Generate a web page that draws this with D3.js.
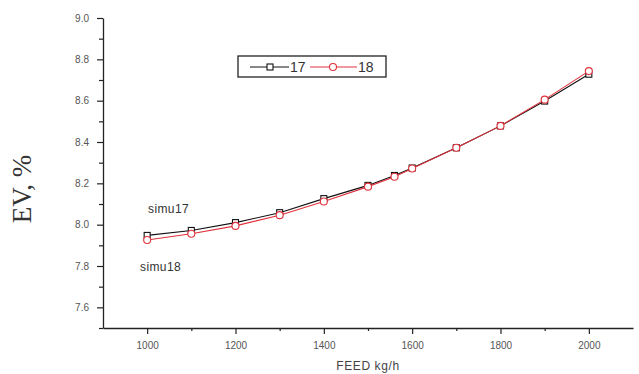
<!DOCTYPE html>
<html><head><meta charset="utf-8">
<script src="https://cdn.jsdelivr.net/npm/d3@7"></script>
<style>body{margin:0;background:#fff;} svg{display:block;}</style>
</head><body>
<script>
const feed = [1000, 1100, 1200, 1300, 1400, 1500, 1560, 1600, 1700, 1800, 1900, 2000];
const ev17 = [7.948, 7.972, 8.010, 8.058, 8.126, 8.190, 8.238, 8.274, 8.372, 8.478, 8.598, 8.728];
const ev18 = [7.926, 7.956, 7.994, 8.046, 8.112, 8.184, 8.232, 8.272, 8.372, 8.478, 8.605, 8.743];
const xTicks = [1000, 1200, 1400, 1600, 1800, 2000];
const xMinor = [1100, 1300, 1500, 1700, 1900];
const yTicks = [7.6, 7.8, 8.0, 8.2, 8.4, 8.6, 8.8, 9.0];
const yMinor = [7.5, 7.7, 7.9, 8.1, 8.3, 8.5, 8.7, 8.9];
const seriesNames = ["17", "18"];

const W = 639, H = 374;
const svg = d3.select("body").append("svg").attr("width", W).attr("height", H);
const x = d3.scaleLinear().domain([900, 2100]).range([103, 633]);
const y = d3.scaleLinear().domain([7.5, 9.0]).range([328, 18]);
const red = "#e0323c", blk = "#111";
const tickCol = "#555";

// axes
const xAxis = svg.append("g").attr("transform", `translate(0,${y(7.5)})`)
  .call(d3.axisBottom(x).tickValues(xTicks).tickFormat(d3.format("d")).tickSize(6).tickSizeOuter(0));
svg.append("g").attr("transform", `translate(0,${y(7.5)})`)
  .call(d3.axisBottom(x).tickValues(xMinor).tickFormat("").tickSize(3).tickSizeOuter(0))
  .select(".domain").remove();
const yAxis = svg.append("g").attr("transform", `translate(${x(900)},0)`)
  .call(d3.axisLeft(y).tickValues(yTicks).tickFormat(d3.format(".1f")).tickSize(6).tickSizeOuter(0));
svg.append("g").attr("transform", `translate(${x(900)},0)`)
  .call(d3.axisLeft(y).tickValues(yMinor).tickFormat("").tickSize(4).tickSizeOuter(0))
  .select(".domain").remove();
svg.selectAll(".domain").attr("stroke", "#222").attr("stroke-width", 1.3);
svg.selectAll(".tick line").attr("stroke", "#222").attr("stroke-width", 1.2);
svg.selectAll(".tick text").attr("fill", tickCol).attr("font-family", "Liberation Sans, Arial, sans-serif").attr("font-size", 10);
xAxis.selectAll(".tick text").attr("dy", "1.2em");
yAxis.selectAll(".tick text").attr("x", -14);

// labels
svg.append("text").attr("x", 368).attr("y", 370).attr("text-anchor", "middle")
  .attr("font-family", "Liberation Sans, Arial, sans-serif").attr("font-size", 12).attr("fill", "#444")
  .attr("letter-spacing", 0.6).text("FEED kg/h");
svg.append("text").attr("transform", "translate(31,189) rotate(-90)").attr("text-anchor", "middle")
  .attr("font-family", "Liberation Serif, Times New Roman, serif").attr("font-size", 27).attr("fill", "#333")
  .text("EV, %");

// lines
const data17 = feed.map((f, i) => [f, ev17[i]]);
const data18 = feed.map((f, i) => [f, ev18[i]]);
const line = d3.line().x(d => x(d[0])).y(d => y(d[1]));
svg.append("path").datum(data17).attr("d", line).attr("fill", "none").attr("stroke", blk).attr("stroke-width", 1.1);
svg.append("path").datum(data18).attr("d", line).attr("fill", "none").attr("stroke", red).attr("stroke-width", 1.1);
svg.selectAll(".sq").data(data17).join("rect")
  .attr("x", d => x(d[0]) - 3).attr("y", d => y(d[1]) - 3).attr("width", 6).attr("height", 6)
  .attr("fill", "#fff").attr("stroke", blk).attr("stroke-width", 1.1);
svg.selectAll(".ci").data(data18).join("circle")
  .attr("cx", d => x(d[0])).attr("cy", d => y(d[1])).attr("r", 3.5)
  .attr("fill", "#fff").attr("stroke", red).attr("stroke-width", 1.1);

// annotations
svg.append("text").attr("x", 148).attr("y", 213).attr("font-family", "Liberation Sans, Arial, sans-serif")
  .attr("font-size", 12).attr("letter-spacing", 0.4).attr("fill", "#333").text("simu17");
svg.append("text").attr("x", 140).attr("y", 271).attr("font-family", "Liberation Sans, Arial, sans-serif")
  .attr("font-size", 12).attr("letter-spacing", 0.4).attr("fill", "#333").text("simu18");

// legend
const lg = svg.append("g");
lg.append("rect").attr("x", 238).attr("y", 56).attr("width", 148).attr("height", 21)
  .attr("fill", "#fff").attr("stroke", "#222").attr("stroke-width", 1.3);
const ly = 67;
lg.append("line").attr("x1", 250).attr("x2", 289).attr("y1", ly).attr("y2", ly).attr("stroke", blk).attr("stroke-width", 1.1);
lg.append("rect").attr("x", 267).attr("y", ly - 3).attr("width", 6).attr("height", 6).attr("fill", "#fff").attr("stroke", blk).attr("stroke-width", 1.1);
lg.append("text").attr("x", 290).attr("y", ly + 5).attr("font-family", "Liberation Sans, Arial, sans-serif").attr("font-size", 14).attr("fill", "#333").text(seriesNames[0]);
lg.append("line").attr("x1", 310).attr("x2", 357).attr("y1", ly).attr("y2", ly).attr("stroke", red).attr("stroke-width", 1.1);
lg.append("circle").attr("cx", 333).attr("cy", ly).attr("r", 3.5).attr("fill", "#fff").attr("stroke", red).attr("stroke-width", 1.1);
lg.append("text").attr("x", 358).attr("y", ly + 5).attr("font-family", "Liberation Sans, Arial, sans-serif").attr("font-size", 14).attr("fill", "#333").text(seriesNames[1]);
</script>
</body></html>
